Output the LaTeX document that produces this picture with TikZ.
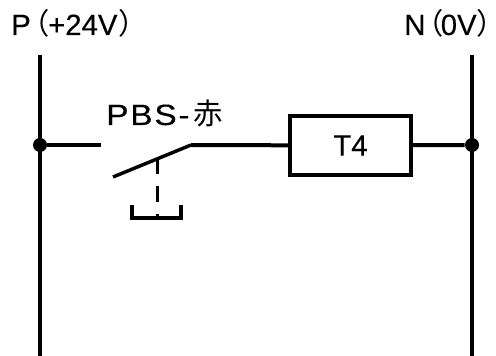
\documentclass[tikz,border=0pt]{standalone}
\usepackage{fontspec}
\setmainfont[FakeBold=0.25]{Liberation Sans}
\newfontfamily\cjk[RawFeature=+halt]{Noto Sans CJK JP}
\newfontfamily\widefont[LetterSpace=6,FakeStretch=1.14,FakeBold=0.25]{Liberation Sans}
\usetikzlibrary{positioning}
\tikzset{
  wire/.style={line width=3pt},
  dot/.style={circle,fill=black,inner sep=0pt,minimum size=10.5pt},
  lbl/.style={font=\fontsize{22}{26}\selectfont,inner sep=0pt}
}
\begin{document}
\begin{tikzpicture}[x=0.75pt,y=-0.75pt]
\useasboundingbox (0,0) rectangle (496,356);
\node[lbl,anchor=base west] at (11,35) (plabel) {P\hspace{3pt}{\cjk（}\hspace{-1pt}+24V\hspace{1pt}{\cjk）}};
\node[lbl,anchor=base west] at (404,35) (nlabel) {N\hspace{2.5pt}{\cjk（}\hspace{-2pt}0V\hspace{-0.5pt}{\cjk）}};
\coordinate (ptop) at (40,55);
\coordinate (pbot) at (40,356);
\coordinate (ntop) at (472,55);
\coordinate (nbot) at (472,356);
\node[dot] at (40,145) (pdot) {};
\node[dot] at (472,145) (ndot) {};
\draw[wire] (ptop) -- (pbot);
\draw[wire] (ntop) -- (nbot);
\node[draw=black,line width=3pt,minimum width=91pt,minimum height=44pt,inner sep=0pt,
      font=\fontsize{22}{26}\selectfont] at (350.5,145.5) (coil) {T4};
\coordinate (swleft) at (101,145);
\coordinate (swpivot) at (191,145);
\coordinate (swend) at (113,177);
\coordinate (swmid) at (157.5,159);
\coordinate (pbsbot) at (157.5,218);
\coordinate (pbsl) at (132,205);
\coordinate (pbsr) at (181,205);
\draw[wire] (pdot) -- (swleft);
\draw[wire] (swpivot) -- (coil);
\draw[wire] (coil) -- (ndot);
\draw[line width=2.6pt] (swend) -- (swpivot);
\draw[line width=2.3pt,dash pattern=on 11.5pt off 9pt] (swmid) -- (pbsbot);
\draw[line width=2.3pt] (pbsl) -- (pbsl |- pbsbot) -- (pbsr |- pbsbot) -- (pbsr);
\node[lbl,anchor=base west] at (106,125) (pbs) {{\widefont PBS-}\hspace{3pt}{\cjk\fontsize{22}{26}\selectfont 赤}};
\end{tikzpicture}
\end{document}
